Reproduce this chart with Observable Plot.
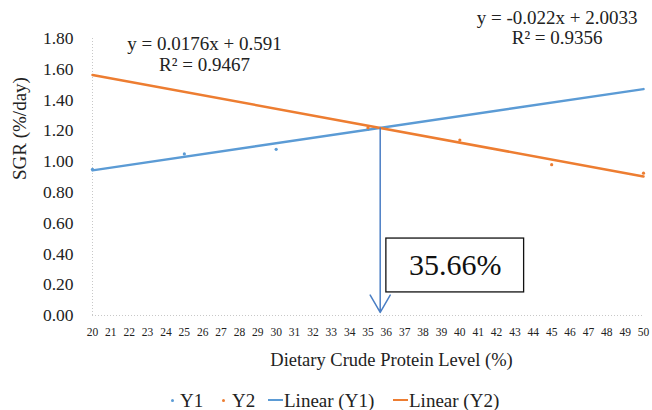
<!DOCTYPE html>
<html>
<head>
<meta charset="utf-8">
<script src="https://cdn.jsdelivr.net/npm/d3@7"></script>
<script src="https://cdn.jsdelivr.net/npm/@observablehq/plot@0.6"></script>
<style>
  body { margin: 0; background: #fff; }
  #wrap { width: 652px; position: relative; }
  #legend { position: relative; width: 652px; height: 25px; font-size: 19px; color: #222; }
  #legend span { position: absolute; white-space: nowrap; line-height: 1; }
  .dot { width: 3px; height: 3px; border-radius: 50%; }
  .ln { width: 15px; height: 2.5px; }
</style>
</head>
<body>
<div id="wrap"></div>
<script>
// Data
const y1X = [20, 25, 30, 35];
const y1Vals = [0.95, 1.05, 1.08, 1.21];
const y2X = [35, 40, 45, 50];
const y2Vals = [1.22, 1.14, 0.98, 0.925];
// Linear trend equations shown on the chart
const slopes = [0.0176, -0.022];
const intercepts = [0.591, 2.0033];
const r2 = [0.9467, 0.9356];
const seriesNames = ["Y1", "Y2"];
const colors = ["#5B9BD5", "#ED7D31"];
const xTicks = d3.range(20, 51);
const yTicks = [0, 0.2, 0.4, 0.6, 0.8, 1.0, 1.2, 1.4, 1.6, 1.8];
const xDomain = [20, 50];

const points = [
  ...y1X.map((x, i) => ({x, y: y1Vals[i], s: "Y1"})),
  ...y2X.map((x, i) => ({x, y: y2Vals[i], s: "Y2"}))
];
const trend = seriesNames.flatMap((s, k) =>
  xDomain.map(x => ({x, y: slopes[k] * x + intercepts[k], s})));
const xi = (intercepts[1] - intercepts[0]) / (slopes[0] - slopes[1]);
const yi = slopes[0] * xi + intercepts[0];

const serif = "Liberation Serif";
const eqText = k => `y = ${slopes[k]}x + ${intercepts[k]}`;
const r2Text = k => `R² = ${r2[k]}`;

const chart = Plot.plot({
  width: 652,
  height: 385,
  marginLeft: 92,
  marginRight: 9,
  marginTop: 38,
  marginBottom: 70,
  style: {background: "#fff", color: "#222"},
  x: {domain: xDomain},
  y: {domain: [0, 1.8]},
  color: {domain: seriesNames, range: colors},
  marks: [
    Plot.ruleX([20], {stroke: "#c8c8c8", strokeDasharray: "1,2"}),
    Plot.ruleY([0], {stroke: "#c8c8c8", strokeDasharray: "1,2"}),
    Plot.axisX({ticks: xTicks, tickSize: 0, tickPadding: 12, fontSize: 11.5, label: null, tickFormat: d => d}),
    Plot.axisY({ticks: yTicks, tickSize: 0, tickPadding: 19, fontSize: 17.5, label: null, tickFormat: d3.format(".2f")}),
    Plot.line(trend, {x: "x", y: "y", z: "s", stroke: "s", strokeWidth: 2.5}),
    Plot.dot(points, {x: "x", y: "y", fill: "s", r: 1.6}),
    Plot.arrow([0], {x1: xi, y1: yi, x2: xi, y2: 0.02, stroke: "#4A7EC4", strokeWidth: 1.5, headLength: 20, headAngle: 60}),
    Plot.rect([0], {x1: 36.0, x2: 43.5, y1: 0.15, y2: 0.50, fill: "#fff", stroke: "#111", strokeWidth: 1.3}),
    Plot.text([`${xi.toFixed(2)}%`], {x: 39.75, y: 0.325, text: d => d, fontSize: 30, fill: "#111"}),
    Plot.text([eqText(0)], {x: 26.1, y: 1.767, text: d => d, fontSize: 19, fill: "#222"}),
    Plot.text([r2Text(0)], {x: 26.1, y: 1.631, text: d => d, fontSize: 19, fill: "#222"}),
    Plot.text([eqText(1)], {x: 45.3, y: 1.936, text: d => d, fontSize: 19, fill: "#222"}),
    Plot.text([r2Text(1)], {x: 45.3, y: 1.806, text: d => d, fontSize: 19, fill: "#222"}),
    Plot.text(["Dietary Crude Protein Level (%)"], {frameAnchor: "bottom", dx: 23.5, dy: 50, text: d => d, fontSize: 18.5, fill: "#222"}),
    Plot.text(["SGR (%/day)"], {frameAnchor: "left", dx: -73, dy: 3, rotate: -90, text: d => d, fontSize: 19, fill: "#222"})
  ]
});
// force serif font with inline styles on every text node
chart.style.setProperty("font-family", serif, "important");
chart.querySelectorAll("text, g").forEach(el => el.style.setProperty("font-family", serif, "important"));
const wrap = document.getElementById("wrap");
wrap.appendChild(chart);

// Legend below the SVG
const legend = document.createElement("div");
legend.id = "legend";
legend.style.setProperty("font-family", serif, "important");
const items = [
  {type: "dot", color: colors[0], left: 170.5, label: seriesNames[0], tl: 180},
  {type: "dot", color: colors[1], left: 221.5, label: seriesNames[1], tl: 232},
  {type: "ln", color: colors[0], left: 268, label: `Linear (${seriesNames[0]})`, tl: 284},
  {type: "ln", color: colors[1], left: 393, label: `Linear (${seriesNames[1]})`, tl: 409}
];
for (const it of items) {
  const sw = document.createElement("span");
  sw.className = it.type;
  sw.style.background = it.color;
  sw.style.left = it.left + "px";
  sw.style.top = "13.5px";
  legend.appendChild(sw);
  const t = document.createElement("span");
  t.textContent = it.label;
  t.style.left = it.tl + "px";
  t.style.top = "6px";
  t.style.setProperty("font-family", serif, "important");
  legend.appendChild(t);
}
wrap.appendChild(legend);
</script>
</body>
</html>
